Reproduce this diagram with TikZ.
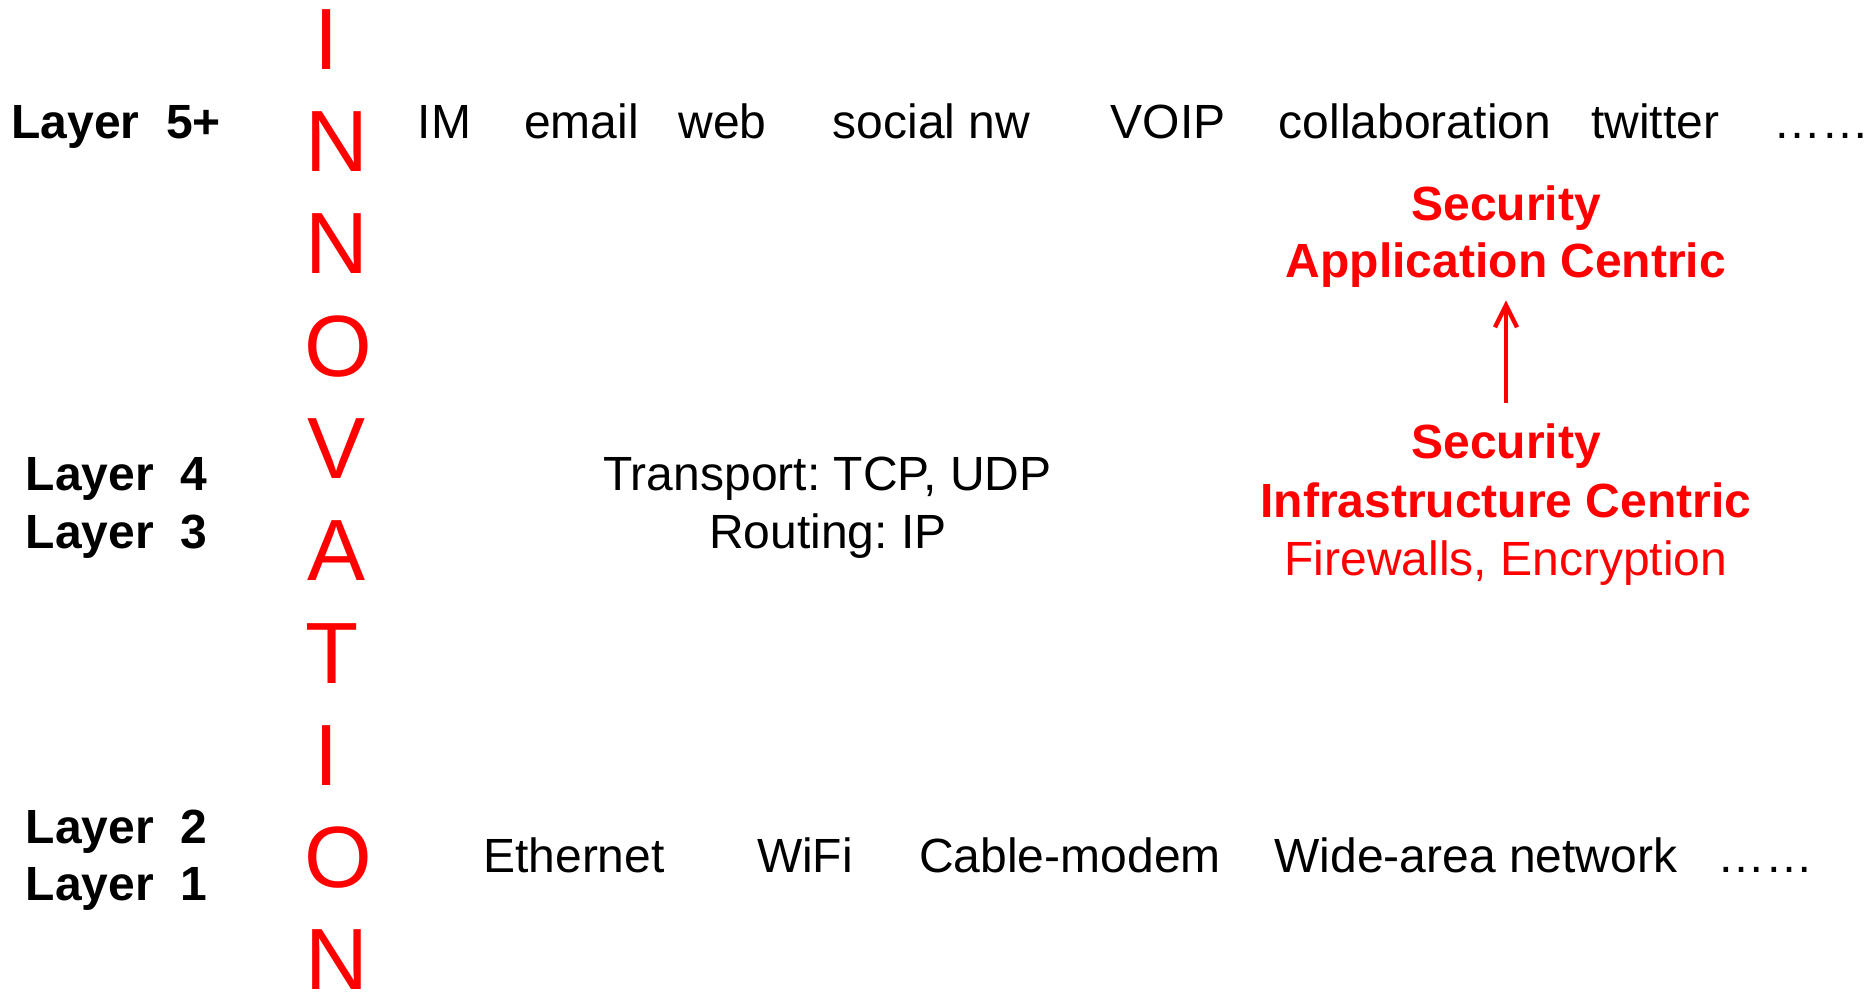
\documentclass[tikz,border=0pt]{standalone}
\usepackage{fontspec}
\setmainfont{Liberation Sans}
\usetikzlibrary{arrows.meta}
\frenchspacing
\begin{document}
\begin{tikzpicture}[x=0.5pt,y=-0.5pt,
  lbl/.style={font=\fontsize{24}{28}\selectfont\bfseries, anchor=base west, inner sep=0pt},
  item/.style={font=\fontsize{24}{28}\selectfont, anchor=base, inner sep=0pt},
  vert/.style={font=\fontsize{43.5}{50}\selectfont, text=red, anchor=base west, inner sep=0pt},
  sec/.style={font=\fontsize{24}{28}\selectfont\bfseries, text=red, anchor=base, inner sep=0pt},
  secnote/.style={font=\fontsize{24}{28}\selectfont, text=red, anchor=base, inner sep=0pt},
  lift/.style={red, line width=2.2pt, -{Straight Barb[length=11pt,width=11pt]}},
]
\useasboundingbox (0,0) rectangle (1875,996);

% layer labels
\node[lbl] (l5) at (11,138) {Layer\ \ 5+};
\node[lbl] (l4) at (25.5,490) {Layer\ \ 4};
\node[lbl] (l3) at (25.5,548) {Layer\ \ 3};
\node[lbl] (l2) at (25.5,843) {Layer\ \ 2};
\node[lbl] (l1) at (25.5,900) {Layer\ \ 1};

% the vertical word
\node[vert] (v1) at (314,69) {I};
\node[vert] (v2) at (305.5,171.5) {N};
\node[vert] (v3) at (305.5,273.5) {N};
\node[vert] (v4) at (304,376) {O};
\node[vert] (v5) at (307.5,478.5) {V};
\node[vert] (v6) at (307,580.5) {A};
\node[vert] (v7) at (305,683) {T};
\node[vert] (v8) at (314,785) {I};
\node[vert] (v9) at (304,887.5) {O};
\node[vert] (v10) at (305.5,989.5) {N};

% applications
\node[item] (im) at (444.5,138) {IM};
\node[item] (email) at (581.5,138) {email};
\node[item] (web) at (722.5,138) {web};
\node[item] (social) at (931.5,138) {social nw};
\node[item] (voip) at (1168,138) {VOIP};
\node[item] (collab) at (1415,138) {collaboration};
\node[item] (twitter) at (1655,138) {twitter};
\node[item] (more5) at (1821,138) {……};

% transport and network
\node[item] (transport) at (827.5,490) {Transport: TCP, UDP};
\node[item] (routing) at (828,548) {Routing: IP};

% link and physical
\node[item] (eth) at (574,872) {Ethernet};
\node[item] (wifi) at (805,872) {WiFi};
\node[item] (cable) at (1070,872) {Cable-modem};
\node[item] (wan) at (1476,872) {Wide-area network};
\node[item] (more1) at (1765,872) {……};

% security shift
\node[sec] (appA) at (1506,220) {Security};
\node[sec] (appB) at (1506,277) {Application Centric};
\node[sec] (infA) at (1506,458) {Security};
\node[sec] (infB) at (1506,517) {Infrastructure Centric};
\node[secnote] (infC) at (1506,575) {Firewalls, Encryption};

\draw[lift, shorten <=10pt, shorten >=6.5pt] (infA.north) -- (appB.south);
\end{tikzpicture}
\end{document}
